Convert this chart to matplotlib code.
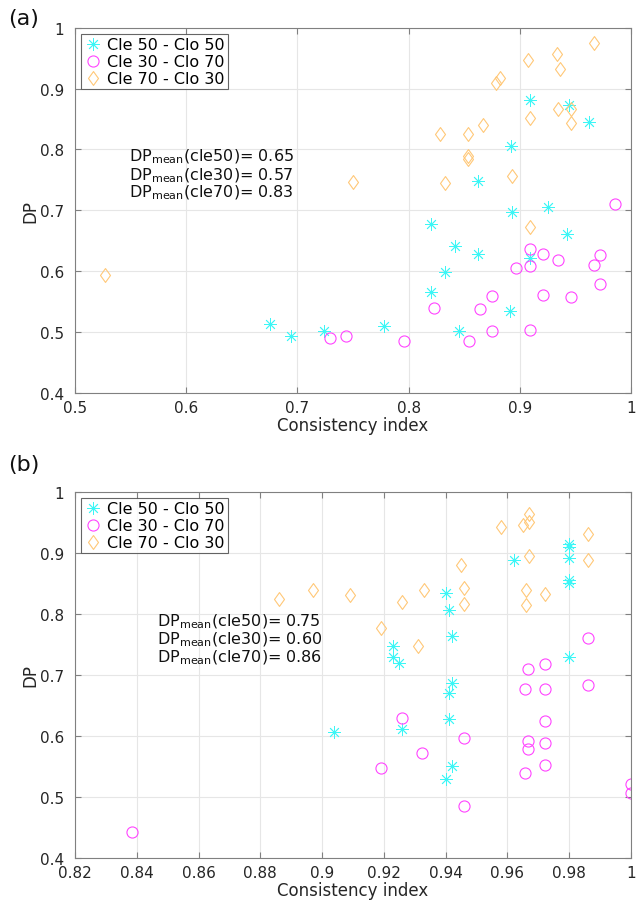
import matplotlib
matplotlib.use('Agg')
import matplotlib.pyplot as plt
from matplotlib.path import Path

# ---- panel (a) data ----
a_c50_x = [0.675, 0.694, 0.724, 0.778, 0.820, 0.820, 0.833, 0.842, 0.845, 0.862,
           0.862, 0.891, 0.893, 0.892, 0.909, 0.909, 0.925, 0.942, 0.944, 0.962]
a_c50_y = [0.514, 0.493, 0.501, 0.510, 0.566, 0.677, 0.599, 0.642, 0.502, 0.629,
           0.749, 0.535, 0.697, 0.806, 0.621, 0.882, 0.705, 0.661, 0.873, 0.845]

a_c30_x = [0.729, 0.744, 0.796, 0.823, 0.854, 0.864, 0.875, 0.875, 0.897, 0.909,
           0.909, 0.909, 0.921, 0.921, 0.934, 0.946, 0.967, 0.972, 0.972, 0.986]
a_c30_y = [0.490, 0.493, 0.485, 0.539, 0.485, 0.538, 0.560, 0.502, 0.606, 0.637,
           0.609, 0.503, 0.629, 0.561, 0.619, 0.558, 0.611, 0.627, 0.579, 0.711]

a_c70_x = [0.527, 0.750, 0.828, 0.833, 0.853, 0.853, 0.853, 0.867, 0.879, 0.882,
           0.893, 0.907, 0.909, 0.909, 0.933, 0.936, 0.934, 0.946, 0.946, 0.967]
a_c70_y = [0.594, 0.747, 0.825, 0.745, 0.826, 0.789, 0.784, 0.840, 0.910, 0.917,
           0.757, 0.947, 0.851, 0.673, 0.957, 0.933, 0.866, 0.866, 0.843, 0.975]

# ---- panel (b) data ----
b_c50_x = [0.940, 0.941, 0.942, 0.962, 0.980, 0.980, 0.980, 0.980, 0.980, 0.980,
           0.923, 0.923, 0.925, 0.904, 0.926, 0.942, 0.941, 0.941, 0.942, 0.940]
b_c50_y = [0.834, 0.807, 0.764, 0.888, 0.915, 0.910, 0.891, 0.856, 0.850, 0.729,
           0.748, 0.729, 0.719, 0.607, 0.611, 0.686, 0.670, 0.627, 0.551, 0.530]

b_c30_x = [0.8386, 0.919, 0.926, 0.9325, 0.946, 0.946, 0.9657, 0.9668, 0.9668, 0.9668,
           0.9657, 0.9722, 0.9722, 0.9722, 0.9722, 0.9722, 0.986, 0.986, 1.0, 1.0]
b_c30_y = [0.443, 0.547, 0.630, 0.572, 0.596, 0.486, 0.677, 0.710, 0.591, 0.579,
           0.540, 0.718, 0.677, 0.624, 0.588, 0.552, 0.683, 0.760, 0.522, 0.507]

b_c70_x = [0.886, 0.897, 0.909, 0.919, 0.926, 0.931, 0.933, 0.945, 0.946, 0.946,
           0.958, 0.965, 0.967, 0.967, 0.967, 0.966, 0.966, 0.972, 0.986, 0.986]
b_c70_y = [0.824, 0.839, 0.831, 0.777, 0.820, 0.747, 0.839, 0.880, 0.843, 0.816,
           0.942, 0.945, 0.963, 0.950, 0.894, 0.839, 0.815, 0.833, 0.930, 0.888]

labels = ['Cle 50 - Clo 50', 'Cle 30 - Clo 70', 'Cle 70 - Clo 30']
mean_a = ['0.65', '0.57', '0.83']
mean_b = ['0.75', '0.60', '0.86']

cyan = '#3cf6f6'
magenta = '#ff44ff'
orange = '#ffc878'
tick_col = '#262626'

# tall diamond like MATLAB's
diamond = Path([(0, 1), (0.72, 0), (0, -1), (-0.72, 0), (0, 1)],
               [Path.MOVETO, Path.LINETO, Path.LINETO, Path.LINETO, Path.CLOSEPOLY])

plt.rcParams['font.family'] = 'DejaVu Sans'

fig = plt.figure(figsize=(6.37, 9.03), dpi=100)
ax_a = fig.add_axes([0.1177, 0.5637, 0.8729, 0.4045])
ax_b = fig.add_axes([0.1177, 0.0487, 0.8729, 0.4057])


def draw(ax, c50, c30, c70, xlim, xticks, xticklabels, means, text_x):
    ax.plot(c50[0], c50[1], linestyle='none', marker=(8, 2, 0), ms=9,
            mec=cyan, mew=0.6, label=labels[0])
    ax.plot(c30[0], c30[1], linestyle='none', marker='o', ms=8,
            mfc='none', mec=magenta, mew=0.8, label=labels[1])
    ax.plot(c70[0], c70[1], linestyle='none', marker=diamond, ms=10,
            mfc='none', mec=orange, mew=0.8, label=labels[2])
    ax.set_xlim(*xlim)
    ax.set_ylim(0.4, 1.0)
    ax.set_xticks(xticks)
    ax.set_xticklabels(xticklabels)
    ax.set_yticks([0.4, 0.5, 0.6, 0.7, 0.8, 0.9, 1.0])
    ax.set_yticklabels(['0.4', '0.5', '0.6', '0.7', '0.8', '0.9', '1'])
    ax.grid(True, color='#e6e6e6', linewidth=0.8)
    ax.set_axisbelow(True)
    ax.tick_params(direction='in', top=True, right=True, length=4,
                   color='#808080', labelcolor=tick_col, labelsize=11)
    ax.tick_params(axis='x', pad=5)
    ax.tick_params(axis='y', pad=8)
    for s in ax.spines.values():
        s.set_color('#808080')
        s.set_linewidth(0.8)
    ax.set_xlabel('Consistency index', fontsize=12, color=tick_col, labelpad=1)
    ax.set_ylabel('DP', fontsize=12, color=tick_col, labelpad=0)
    leg = ax.legend(loc='upper left', fontsize=11.5, frameon=True, fancybox=False,
                    borderpad=0.2, labelspacing=0.12, handlelength=1.0,
                    handletextpad=0.4, borderaxespad=0.4, edgecolor='#404040')
    leg.get_frame().set_linewidth(0.8)
    names = ['cle50', 'cle30', 'cle70']
    ys = [0.648, 0.598, 0.550]
    for n, m, y in zip(names, means, ys):
        ax.text(text_x, y, r'DP$_{\mathrm{mean}}$(' + n + ')= ' + m,
                transform=ax.transAxes, fontsize=11.5, color='#111111',
                va='center', ha='left')


draw(ax_a, (a_c50_x, a_c50_y), (a_c30_x, a_c30_y), (a_c70_x, a_c70_y),
     (0.5, 1.0), [0.5, 0.6, 0.7, 0.8, 0.9, 1.0],
     ['0.5', '0.6', '0.7', '0.8', '0.9', '1'], mean_a, 0.097)
draw(ax_b, (b_c50_x, b_c50_y), (b_c30_x, b_c30_y), (b_c70_x, b_c70_y),
     (0.82, 1.0), [0.82, 0.84, 0.86, 0.88, 0.9, 0.92, 0.94, 0.96, 0.98, 1.0],
     ['0.82', '0.84', '0.86', '0.88', '0.9', '0.92', '0.94', '0.96', '0.98', '1'],
     mean_b, 0.147)

fig.text(0.012, 0.979, '(a)', fontsize=16, color='#111111', va='center')
fig.text(0.012, 0.485, '(b)', fontsize=16, color='#111111', va='center')

fig.savefig('out.png', dpi=100)
